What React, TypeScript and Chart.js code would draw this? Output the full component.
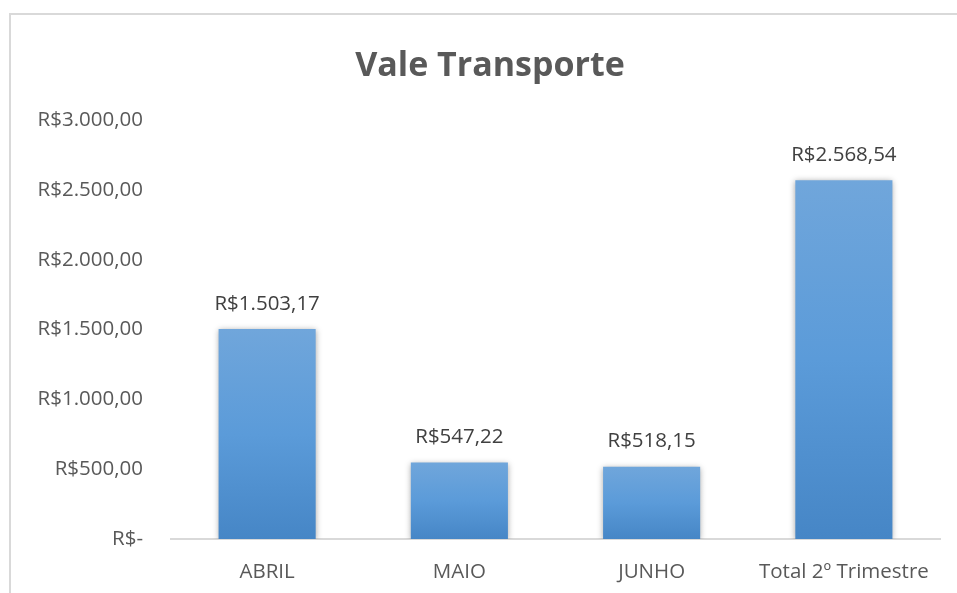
import React, { useEffect, useRef } from "react";
import { Chart, registerables } from "chart.js";

Chart.register(...registerables);

const categories = ["ABRIL", "MAIO", "JUNHO", "Total 2º Trimestre"];
const values = [1503.17, 547.22, 518.15, 2568.54];
const valueLabels = ["R$1.503,17", "R$547,22", "R$518,15", "R$2.568,54"];
const chartTitle = "Vale Transporte";
const yMax = 3000;
const yStep = 500;

const FONT = "'Open Sans', 'DejaVu Sans', sans-serif";

function formatBRL(v: number): string {
  if (v === 0) return "R$-";
  const fixed = v.toFixed(2);
  const [intPart, dec] = fixed.split(".");
  const withDots = intPart.replace(/\B(?=(\d{3})+(?!\d))/g, ".");
  return "R$" + withDots + "," + dec;
}

export default function App() {
  const ref = useRef<HTMLCanvasElement | null>(null);

  useEffect(() => {
    document.body.style.margin = "0";
    const canvas = ref.current;
    if (!canvas) return;

    const framePlugin = {
      id: "frame",
      beforeDraw(chart: any) {
        const ctx = chart.ctx;
        ctx.save();
        ctx.fillStyle = "#ffffff";
        ctx.fillRect(0, 0, chart.width, chart.height);
        ctx.strokeStyle = "#d9d9d9";
        ctx.lineWidth = 2;
        ctx.beginPath();
        ctx.moveTo(10, chart.height + 5);
        ctx.lineTo(10, 14);
        ctx.lineTo(chart.width + 5, 14);
        ctx.stroke();
        ctx.fillStyle = "#595959";
        ctx.font = "bold 34px " + FONT;
        ctx.textAlign = "center";
        ctx.textBaseline = "middle";
        ctx.fillText(chartTitle, 490, 66);
        ctx.restore();
      },
    };

    const shadowPlugin = {
      id: "barShadow",
      beforeDatasetsDraw(chart: any) {
        const ctx = chart.ctx;
        ctx.save();
        ctx.shadowColor = "rgba(0,0,0,0.35)";
        ctx.shadowBlur = 6;
        ctx.shadowOffsetX = 0;
        ctx.shadowOffsetY = 1;
      },
      afterDatasetsDraw(chart: any) {
        chart.ctx.restore();
      },
    };

    const labelPlugin = {
      id: "valueLabels",
      afterDatasetsDraw(chart: any) {
        const ctx = chart.ctx;
        const meta = chart.getDatasetMeta(0);
        ctx.save();
        ctx.fillStyle = "#404040";
        ctx.font = "20.5px " + FONT;
        ctx.textAlign = "center";
        ctx.textBaseline = "middle";
        meta.data.forEach((bar: any, i: number) => {
          ctx.fillText(valueLabels[i], bar.x, bar.y - 25);
        });
        ctx.restore();
      },
    };

    const chart = new Chart(canvas, {
      type: "bar",
      data: {
        labels: categories,
        datasets: [
          {
            data: values,
            backgroundColor: (c: any) => {
              const ch = c.chart;
              const area = ch.chartArea;
              if (!area || c.raw === undefined) return "#5b9bd5";
              const top = ch.scales.y.getPixelForValue(c.raw);
              const g = ch.ctx.createLinearGradient(0, top, 0, area.bottom);
              g.addColorStop(0, "#70a6db");
              g.addColorStop(0.5, "#5b9bd9");
              g.addColorStop(1, "#4686c6");
              return g;
            },
            borderWidth: 0,
            categoryPercentage: 1,
            barPercentage: 0.505,
          },
        ],
      },
      options: {
        animation: false,
        responsive: false,
        maintainAspectRatio: false,
        devicePixelRatio: 1,
        layout: { padding: { top: 120, right: 17, bottom: 0, left: 0 } },
        plugins: {
          legend: { display: false },
          title: { display: false },
          tooltip: { enabled: false },
        },
        scales: {
          x: {
            grid: { display: false, drawTicks: false },
            border: { display: true, color: "#d9d9d9", width: 2 },
            ticks: {
              color: "#595959",
              font: { family: FONT, size: 20.5 },
              padding: 21,
              maxRotation: 0,
            },
            afterFit: (s: any) => {
              s.height = 54;
            },
          },
          y: {
            min: 0,
            max: yMax,
            grid: { display: false, drawTicks: false },
            border: { display: false },
            ticks: {
              stepSize: yStep,
              color: "#595959",
              font: { family: FONT, size: 20.5 },
              padding: 28,
              callback: (v: any) => formatBRL(Number(v)),
            },
            afterFit: (s: any) => {
              s.width = 171;
            },
          },
        },
      },
      plugins: [framePlugin, shadowPlugin, labelPlugin],
    } as any);

    return () => chart.destroy();
  }, []);

  return (
    <div style={{ width: 957, height: 593 }}>
      <canvas ref={ref} width={957} height={593} style={{ display: "block" }} />
    </div>
  );
}
